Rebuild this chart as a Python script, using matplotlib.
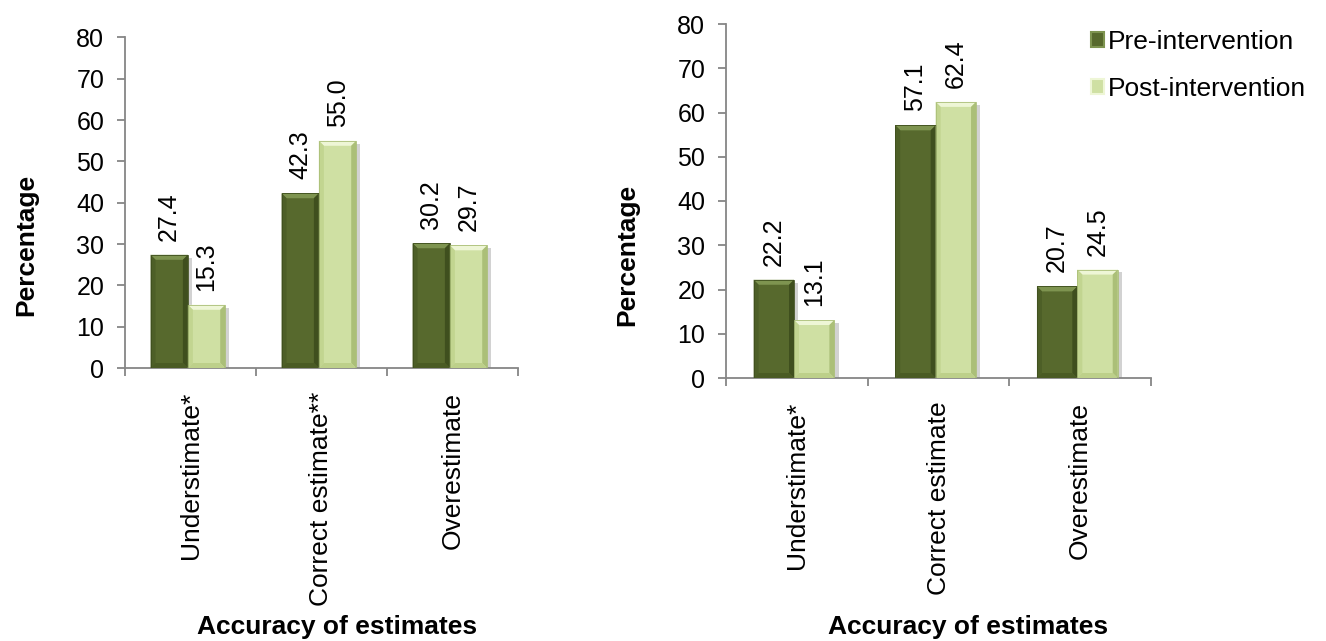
import matplotlib
matplotlib.use("Agg")
import matplotlib.pyplot as plt
from matplotlib.patches import Polygon, Rectangle
from matplotlib import patheffects as pe

plt.rcParams['font.family'] = ['Liberation Sans', 'DejaVu Sans']

# ---- data ----
series_names = ["Pre-intervention", "Post-intervention"]

left_categories = ["Understimate*", "Correct estimate**", "Overestimate"]
left_pre = [27.4, 42.3, 30.2]
left_post = [15.3, 55.0, 29.7]

right_categories = ["Understimate*", "Correct estimate", "Overestimate"]
right_pre = [22.2, 57.1, 20.7]
right_post = [13.1, 62.4, 24.5]

y_ticks = [0, 10, 20, 30, 40, 50, 60, 70, 80]
x_title = "Accuracy of estimates"
y_title = "Percentage"

# ---- style ----
W, H = 1326, 641
AXIS_GREY = "#868686"
PRE = dict(body="#57692d", top="#7e9450", left="#4d5f27", right="#3f4f1e", bottom="#4a5b24")
POST = dict(body="#cfe0a3", top="#eef6d6", left="#c2d590", right="#abbf78", bottom="#bdd08a")

TICK_FS = 18
CAT_FS = 19
VAL_FS = 18
TITLE_FS = 19
LEGEND_FS = 19
BAR_W = 0.285

fig = plt.figure(figsize=(W / 100, H / 100), dpi=100)


def px_rect(x0, x1, ytop, ybot):
    return [x0 / W, (H - ybot) / H, (x1 - x0) / W, (ybot - ytop) / H]


def bevel_bar(ax, xl, w, h, pal, bx, by):
    """Bar body with a bevelled rim, sized from the bar's value."""
    body = Rectangle((xl, 0), w, h, facecolor=pal["body"], edgecolor="none", zorder=2)
    body.set_path_effects([pe.SimplePatchShadow(offset=(3, -2), shadow_rgbFace="#7f7f7f", alpha=0.35),
                           pe.Normal()])
    ax.add_patch(body)
    x0, x1 = xl, xl + w
    byy = min(by, h / 2)
    rims = [
        ([(x0, h), (x1, h), (x1 - bx, h - byy), (x0 + bx, h - byy)], pal["top"]),
        ([(x0, 0), (x0, h), (x0 + bx, h - byy), (x0 + bx, byy)], pal["left"]),
        ([(x1, 0), (x1, h), (x1 - bx, h - byy), (x1 - bx, byy)], pal["right"]),
        ([(x0, 0), (x1, 0), (x1 - bx, byy), (x0 + bx, byy)], pal["bottom"]),
    ]
    for verts, c in rims:
        ax.add_patch(Polygon(verts, closed=True, facecolor=c, edgecolor="none", zorder=3))
    ax.add_patch(Rectangle((xl, 0), w, h, facecolor="none", edgecolor=pal["right"],
                           linewidth=0.6, zorder=4))


def panel(rect, categories, pre, post, ylab_xy, xlab_xy):
    ax = fig.add_axes(rect)
    n = len(categories)
    ax.set_xlim(0, n)
    ax.set_ylim(0, 80)
    ax_w_px = rect[2] * W
    ax_h_px = rect[3] * H
    bx = 5 / (ax_w_px / n)
    by = 5 / (ax_h_px / 80)
    for i in range(n):
        c = i + 0.48
        for vals, pal, off in ((pre, PRE, -BAR_W), (post, POST, 0.0)):
            v = vals[i]
            bevel_bar(ax, c + off, BAR_W, v, pal, bx, by)
            ax.annotate(f"{v:.1f}", xy=(c + off + BAR_W / 2, v), xytext=(0, 14),
                        textcoords="offset pixels", rotation=90, ha="center", va="bottom",
                        fontsize=VAL_FS, color="black", zorder=5)
    for s in ("top", "right"):
        ax.spines[s].set_visible(False)
    for s in ("left", "bottom"):
        ax.spines[s].set_color(AXIS_GREY)
        ax.spines[s].set_linewidth(1.3)
    ax.set_yticks(y_ticks)
    ax.set_yticklabels([str(t) for t in y_ticks])
    ax.set_xticks(range(n + 1))
    ax.set_xticklabels([""] * (n + 1))
    ax.set_xticks([i + 0.5 for i in range(n)], minor=True)
    ax.set_xticklabels(categories, minor=True, rotation=90, va="top", ha="center", fontsize=CAT_FS)
    ax.tick_params(axis="both", which="major", direction="out", length=6, width=1.3,
                   color=AXIS_GREY, labelsize=TICK_FS, pad=9)
    ax.tick_params(axis="x", which="minor", length=0, pad=17)
    fig.text(ylab_xy[0] / W, 1 - ylab_xy[1] / H, y_title, rotation=90, ha="center", va="center",
             fontsize=TITLE_FS, fontweight="bold")
    fig.text(xlab_xy[0] / W, 1 - xlab_xy[1] / H, x_title, ha="center", va="center",
             fontsize=TITLE_FS, fontweight="bold")
    return ax


panel(px_rect(125, 518, 37.5, 368), left_categories, left_pre, left_post, (26, 245), (337, 627))
panel(px_rect(726, 1151, 24, 378), right_categories, right_pre, right_post, (627, 255), (968, 627))

handles = [Rectangle((0, 0), 1, 1, facecolor=PRE["body"], edgecolor=PRE["top"], linewidth=1.5),
           Rectangle((0, 0), 1, 1, facecolor=POST["body"], edgecolor=POST["top"], linewidth=1.5)]
fig.legend(handles, series_names, loc="upper left", bbox_to_anchor=(1091 / W, 1 - 30 / H),
           frameon=False, fontsize=LEGEND_FS, handlelength=0.5, handleheight=0.5, handletextpad=0.15,
           labelspacing=0.88, borderpad=0, borderaxespad=0)

fig.savefig("out.png", dpi=100)
